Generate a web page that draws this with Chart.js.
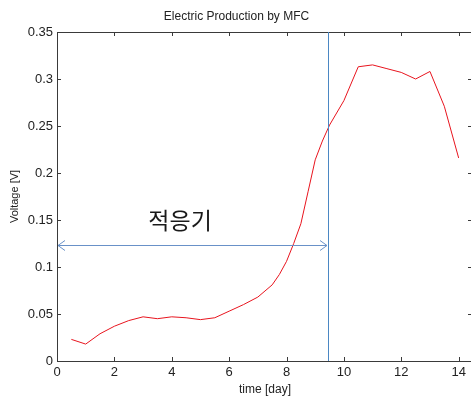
<!DOCTYPE html>
<html>
<head>
<meta charset="utf-8">
<script src="https://cdn.jsdelivr.net/npm/chart.js@4/dist/chart.umd.min.js"></script>
<style>
  html, body { margin: 0; padding: 0; background: #fff; overflow: hidden; }
  #wrap { width: 473px; height: 401px; }
</style>
</head>
<body>
<div id="wrap"><canvas id="idCanvas"></canvas></div>
<script>
// data
const timeDays = [0.5, 1, 1.5, 2, 2.5, 3, 3.5, 4, 4.5, 5, 5.5, 6, 6.5, 7, 7.5, 7.75,
                  8, 8.25, 8.5, 8.75, 9, 9.25, 9.5, 10, 10.5, 11, 11.5, 12, 12.5, 13, 13.5, 14];
const voltage = [0.023, 0.018, 0.029, 0.037, 0.043, 0.047, 0.045, 0.047, 0.046, 0.044, 0.046, 0.053,
                 0.060, 0.068, 0.081, 0.092, 0.106, 0.125, 0.146, 0.180, 0.214, 0.234, 0.251, 0.277,
                 0.313, 0.315, 0.311, 0.307, 0.300, 0.308, 0.271, 0.216];
const xTicks = [0, 2, 4, 6, 8, 10, 12, 14];
const yTicks = [0, 0.05, 0.1, 0.15, 0.2, 0.25, 0.3, 0.35];
const yTickLabels = ['0', '0.05', '0.1', '0.15', '0.2', '0.25', '0.3', '0.35'];
const phaseEnd = 9.43;      // vertical line (day)
const arrowLevel = 0.1234;  // arrow height (V)
const phaseLabel = '적응기';
const labelAt = [4.29, 0.15];

const font = 'Liberation Sans, Arial, sans-serif';

// box, inward ticks, vertical line, arrow and label
const extras = {
    id: 'extras',
    afterDraw(chart) {
        const c = chart.ctx, a = chart.chartArea;
        const xs = chart.scales.x, ys = chart.scales.y;
        c.save();
        c.strokeStyle = '#3a3a3a';
        c.lineWidth = 1;
        c.strokeRect(a.left + 0.5, a.top + 0.5, a.right - a.left, a.bottom - a.top);
        c.beginPath();
        xTicks.forEach(v => {
            const px = Math.round(xs.getPixelForValue(v)) + 0.5;
            c.moveTo(px, a.bottom); c.lineTo(px, a.bottom - 4);
            c.moveTo(px, a.top); c.lineTo(px, a.top + 4);
        });
        yTicks.forEach(v => {
            const py = Math.round(ys.getPixelForValue(v)) + 0.5;
            c.moveTo(a.left, py); c.lineTo(a.left + 4, py);
            c.moveTo(a.right, py); c.lineTo(a.right - 5, py);
        });
        c.stroke();

        // vertical line
        const vx = Math.round(xs.getPixelForValue(phaseEnd)) + 0.5;
        c.strokeStyle = 'rgb(75,135,195)';
        c.beginPath();
        c.moveTo(vx, a.top); c.lineTo(vx, a.bottom);
        c.stroke();

        // double arrow
        const ay = Math.round(ys.getPixelForValue(arrowLevel)) + 0.5;
        const x0 = xs.getPixelForValue(0) + 1, x1 = vx - 1.5;
        c.strokeStyle = 'rgb(105,145,200)';
        c.beginPath();
        c.moveTo(x0, ay); c.lineTo(x1, ay);
        c.moveTo(x0 + 7, ay - 5); c.lineTo(x0, ay); c.lineTo(x0 + 7, ay + 5);
        c.moveTo(x1 - 7, ay - 5); c.lineTo(x1, ay); c.lineTo(x1 - 7, ay + 5);
        c.stroke();

        // label
        c.fillStyle = '#1a1a1a';
        c.font = '23px "Noto Sans CJK KR"';
        c.textAlign = 'center';
        c.textBaseline = 'middle';
        c.fillText(phaseLabel, xs.getPixelForValue(labelAt[0]), ys.getPixelForValue(labelAt[1]));
        c.restore();
    }
};

let ctx = document.getElementById('idCanvas').getContext('2d');
let myChart = new Chart(ctx, {
    type: 'line',
    data: {
        datasets: [{
            data: timeDays.map((t, i) => ({ x: t, y: voltage[i] })),
            borderColor: 'rgb(232,20,30)',
            borderWidth: 1,
            pointRadius: 0,
            tension: 0,
            fill: false
        }]
    },
    options: {
        responsive: true,
        maintainAspectRatio: false,
        devicePixelRatio: 1,
        animation: false,
        layout: { padding: 0 },
        plugins: {
            legend: { display: false },
            tooltip: { enabled: false },
            title: {
                display: true,
                text: 'Electric Production by MFC',
                color: '#222',
                font: { family: font, size: 12, weight: 'normal', lineHeight: 1.2 },
                padding: { top: 9, bottom: 8.6 }
            }
        },
        scales: {
            x: {
                type: 'linear',
                min: 0,
                max: 14.5,
                afterBuildTicks: s => { s.ticks = xTicks.map(v => ({ value: v })); },
                afterFit: s => { s.height = 40; },
                grid: { display: false, drawTicks: false },
                border: { display: false },
                ticks: { color: '#222', font: { family: font, size: 13 }, padding: 4, maxRotation: 0 },
                title: {
                    display: true, text: 'time [day]', color: '#222',
                    font: { family: font, size: 12 }, padding: { top: 0, bottom: 4 }
                }
            },
            y: {
                min: 0,
                max: 0.35,
                afterBuildTicks: s => { s.ticks = yTicks.map(v => ({ value: v })); },
                afterFit: s => { s.width = 57; },
                grid: { display: false, drawTicks: false },
                border: { display: false },
                ticks: {
                    color: '#222', font: { family: font, size: 13 }, padding: 4,
                    callback: (v, i) => yTickLabels[i]
                },
                title: {
                    display: true, text: 'Voltage [V]', color: '#222',
                    font: { family: font, size: 11 }, padding: { top: 8, bottom: 0 }
                }
            }
        }
    },
    plugins: [extras]
});
</script>
</body>
</html>
